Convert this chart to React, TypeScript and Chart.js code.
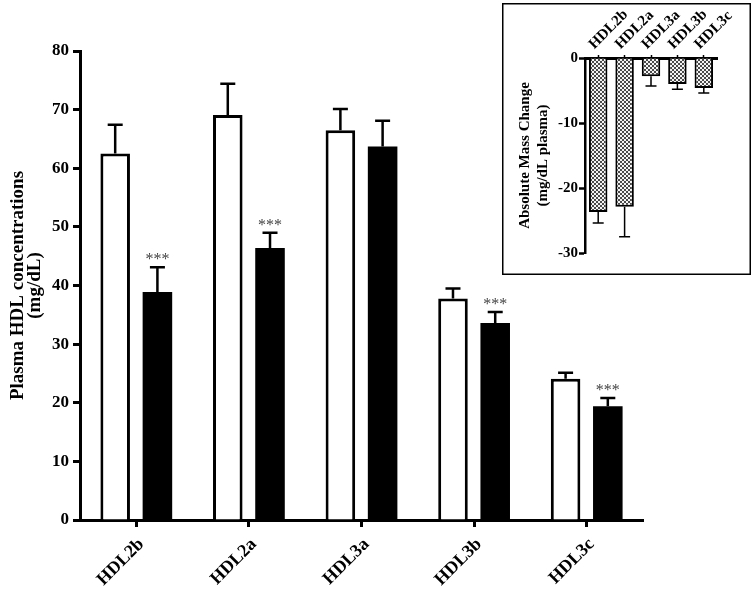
import React, { useEffect, useRef } from 'react';
import { Chart, registerables } from 'chart.js';

Chart.register(...registerables);

const categories = ['HDL2b', 'HDL2a', 'HDL3a', 'HDL3b', 'HDL3c'];
const controlMeans = [62.5, 69.1, 66.5, 37.8, 24.1];
const controlSem = [4.9, 5.3, 3.6, 1.7, 1.0];
const treatedMeans = [38.9, 46.4, 63.7, 33.6, 19.4];
const treatedSem = [4.2, 2.6, 4.4, 1.9, 1.4];
const treatedMarks = ['***', '***', '', '***', '***'];
const changeMeans = [-23.7, -22.9, -2.8, -4.0, -4.6];
const changeSem = [1.7, 4.6, 1.5, 0.8, 0.8];

const FONT = "'Liberation Serif', 'Times New Roman', serif";

const errorBarPlugin = {
  id: 'errorBars',
  afterDatasetsDraw(chart: any, _args: any, opts: any) {
    const ctx = chart.ctx;
    const yScale = chart.scales.y;
    chart.data.datasets.forEach((ds: any, i: number) => {
      const meta = chart.getDatasetMeta(i);
      if (!ds.errors) return;
      meta.data.forEach((bar: any, j: number) => {
        const v = ds.data[j];
        const e = ds.errors[j];
        const end = v + (v < 0 ? -e : e);
        const yEnd = yScale.getPixelForValue(end);
        const yStart = bar.y;
        ctx.save();
        ctx.strokeStyle = '#000';
        ctx.lineWidth = opts.lineWidth;
        ctx.beginPath();
        ctx.moveTo(bar.x, yStart);
        ctx.lineTo(bar.x, yEnd);
        ctx.moveTo(bar.x - opts.cap / 2, yEnd);
        ctx.lineTo(bar.x + opts.cap / 2, yEnd);
        ctx.stroke();
        if (ds.marks && ds.marks[j]) {
          ctx.fillStyle = '#444';
          ctx.font = `16px ${FONT}`;
          ctx.textAlign = 'center';
          ctx.textBaseline = 'alphabetic';
          ctx.fillText(ds.marks[j], bar.x, yEnd - 3);
        }
        ctx.restore();
      });
    });
  },
};

const boxPlugin = {
  id: 'insetBox',
  beforeDraw(chart: any) {
    const ctx = chart.ctx;
    ctx.save();
    ctx.fillStyle = '#fff';
    ctx.fillRect(0, 0, chart.width, chart.height);
    ctx.strokeStyle = '#000';
    ctx.lineWidth = 1.5;
    ctx.strokeRect(0.75, 0.75, chart.width - 1.5, chart.height - 1.5);
    ctx.restore();
  },
};

function makePattern(): CanvasPattern | string {
  const c = document.createElement('canvas');
  c.width = 4;
  c.height = 4;
  const g = c.getContext('2d');
  if (!g) return '#999';
  g.fillStyle = '#f4f4f4';
  g.fillRect(0, 0, 4, 4);
  g.fillStyle = '#4a4a4a';
  g.fillRect(0, 0, 2, 2);
  g.fillRect(2, 2, 2, 2);
  const p = g.createPattern(c, 'repeat');
  return p || '#999';
}

export default function App() {
  const mainRef = useRef<HTMLCanvasElement>(null);
  const insetRef = useRef<HTMLCanvasElement>(null);

  useEffect(() => {
    if (!mainRef.current || !insetRef.current) return;
    const axisFont = { family: FONT, weight: 'bold' as const };

    const main = new Chart(mainRef.current, {
      type: 'bar',
      data: {
        labels: categories,
        datasets: [
          {
            data: controlMeans,
            errors: controlSem,
            backgroundColor: '#fff',
            borderColor: '#000',
            borderWidth: 3,
            barPercentage: 0.7,
            categoryPercentage: 0.75,
          } as any,
          {
            data: treatedMeans,
            errors: treatedSem,
            marks: treatedMarks,
            backgroundColor: '#000',
            borderColor: '#000',
            borderWidth: 0,
            barPercentage: 0.7,
            categoryPercentage: 0.75,
          } as any,
        ],
      },
      options: {
        animation: false,
        responsive: false,
        maintainAspectRatio: false,
        layout: { padding: { top: 51, right: 112, left: 0, bottom: 0 } },
        plugins: {
          legend: { display: false },
          tooltip: { enabled: false },
          errorBars: { lineWidth: 2.5, cap: 15 },
        } as any,
        scales: {
          x: {
            offset: true,
            grid: {
              display: true,
              drawOnChartArea: false,
              drawTicks: true,
              tickLength: 7,
              tickWidth: 3,
              tickColor: '#000',
              color: '#000',
              offset: false,
            },
            border: { display: true, width: 3, color: '#000' },
            ticks: {
              color: '#000',
              font: { ...axisFont, size: 18 },
              minRotation: 45,
              maxRotation: 45,
              autoSkip: false,
              padding: 7,
              labelOffset: 5,
            },
            afterFit: (s: any) => {
              s.height = 69;
            },
          },
          y: {
            min: 0,
            max: 80,
            ticks: {
              stepSize: 10,
              color: '#000',
              font: { ...axisFont, size: 17 },
              padding: 4,
            },
            grid: {
              display: true,
              drawOnChartArea: false,
              drawTicks: true,
              tickLength: 7,
              tickWidth: 3,
              tickColor: '#000',
              color: '#000',
            },
            border: { display: true, width: 3, color: '#000' },
            title: {
              display: true,
              text: ['Plasma HDL concentrations', '(mg/dL)'],
              color: '#000',
              font: { ...axisFont, size: 19, lineHeight: 0.9 },
              padding: { top: 9.5, bottom: 0 },
            },
            afterFit: (s: any) => {
              s.width = 80;
            },
          },
        },
      },
      plugins: [errorBarPlugin],
    } as any);

    const inset = new Chart(insetRef.current, {
      type: 'bar',
      data: {
        labels: categories,
        datasets: [
          {
            data: changeMeans,
            errors: changeSem,
            backgroundColor: makePattern(),
            borderColor: '#000',
            borderWidth: 2,
            barPercentage: 0.7,
            categoryPercentage: 1,
          } as any,
        ],
      },
      options: {
        animation: false,
        responsive: false,
        maintainAspectRatio: false,
        layout: { padding: { top: 0, right: 34, left: 0, bottom: 22 } },
        plugins: {
          legend: { display: false },
          tooltip: { enabled: false },
          errorBars: { lineWidth: 1.5, cap: 11 },
        } as any,
        scales: {
          x: {
            position: 'top',
            offset: true,
            grid: {
              display: true,
              drawOnChartArea: false,
              drawTicks: true,
              tickLength: 3,
              tickWidth: 1.5,
              tickColor: '#000',
              color: '#000',
              offset: false,
            },
            border: { display: true, width: 3, color: '#000' },
            ticks: {
              color: '#000',
              font: { ...axisFont, size: 15 },
              minRotation: 45,
              maxRotation: 45,
              autoSkip: false,
              padding: 2,
              labelOffset: 6,
            },
            afterFit: (s: any) => {
              s.height = 55;
            },
          },
          y: {
            min: -30,
            max: 0,
            ticks: {
              stepSize: 10,
              color: '#000',
              font: { ...axisFont, size: 15 },
              padding: 1,
            },
            grid: {
              display: true,
              drawOnChartArea: false,
              drawTicks: true,
              tickLength: 6,
              tickWidth: 2.5,
              tickColor: '#000',
              color: '#000',
            },
            border: { display: true, width: 2.5, color: '#000' },
            title: {
              display: true,
              text: ['Absolute Mass Change', '(mg/dL plasma)'],
              color: '#000',
              font: { ...axisFont, size: 15, lineHeight: 1.2 },
              padding: { top: 14, bottom: 0 },
            },
            afterFit: (s: any) => {
              s.width = 83;
            },
          },
        },
      },
      plugins: [boxPlugin, errorBarPlugin],
    } as any);

    return () => {
      main.destroy();
      inset.destroy();
    };
  }, []);

  return (
    <div style={{ position: 'fixed', left: 0, top: 0, width: 755, height: 589, background: '#fff' }}>
      <canvas ref={mainRef} width={755} height={589} style={{ position: 'absolute', left: 0, top: 0, width: 755, height: 589 }} />
      <canvas ref={insetRef} width={249} height={272} style={{ position: 'absolute', left: 502, top: 3, width: 249, height: 272 }} />
    </div>
  );
}
